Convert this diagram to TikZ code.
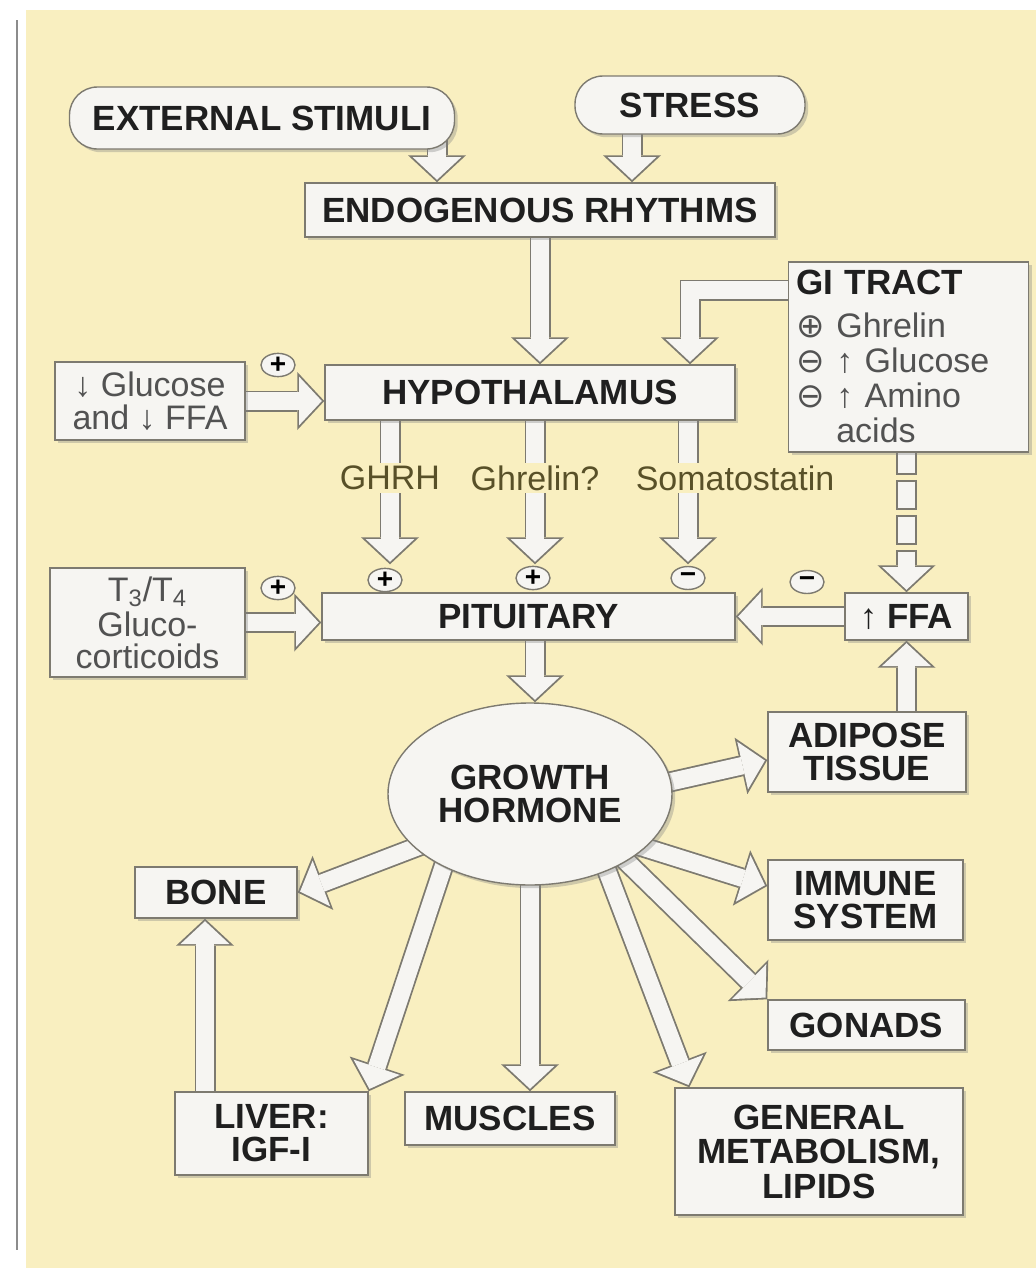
\documentclass[tikz,border=0pt]{standalone}
\usepackage{fontspec}
\setmainfont{Liberation Sans}
\newfontfamily\symfont{DejaVu Sans}
\usepackage{tikz}
\usetikzlibrary{arrows.meta,positioning,shapes.geometric,shadows,calc}
\definecolor{pagebg}{RGB}{249,239,192}
\definecolor{boxfill}{RGB}{246,245,242}
\definecolor{boxline}{RGB}{125,122,112}
\definecolor{labelink}{RGB}{88,80,40}
\definecolor{softink}{RGB}{82,82,82}
\pgfdeclarelayer{background}
\pgfdeclarelayer{arrows}
\pgfsetlayers{background,arrows,main}
\newcommand{\ghhead}{\fontsize{17.5}{16.5}\selectfont\bfseries}
\newcommand{\ghtext}{\fontsize{17}{16.5}\selectfont}
\newcommand{\gpos}{{\symfont ⊕}}
\newcommand{\gneg}{{\symfont ⊖}}
\tikzset{
  hbox/.style={draw=boxline, fill=boxfill, line width=0.7pt, align=center, inner sep=2pt, font=\ghhead, text=black!88,
    drop shadow={shadow xshift=1.6pt, shadow yshift=-1.6pt, opacity=0.35}},
  hsoft/.style={hbox, font=\ghtext, text=softink},
  hpill/.style={hbox, rounded corners=14pt},
  hsign/.style={draw=boxline, fill=boxfill, ellipse, inner sep=0pt, minimum width=17pt, minimum height=11.5pt, line width=0.7pt,
    font=\fontsize{14}{14}\selectfont\bfseries},
  hlabel/.style={fill=pagebg, inner sep=1.5pt, text=labelink, font=\ghtext},
  fat/.style={draw=boxfill, line width=8.7pt, -{Triangle[length=11.4pt,width=24.4pt,line width=0pt]}, shorten >=1.25pt,
    preaction={draw=boxline, line width=10.5pt, -{Triangle[length=13.5pt,width=29pt,line width=0pt]}, shorten >=0pt}},
  fatdash/.style={draw=boxfill, line width=8.7pt, dash pattern=on 13.2pt off 4.3pt, dash phase=7.63pt,
    -{Triangle[length=11.4pt,width=24.4pt,line width=0pt]}, shorten >=1.25pt,
    preaction={draw=boxline, line width=10.5pt, dash pattern=on 15pt off 2.5pt, dash phase=8.53pt,
      -{Triangle[length=13.5pt,width=29pt,line width=0pt]}, shorten >=0pt}}
}
\begin{document}
\begin{tikzpicture}[x=1pt, y=-1pt]
\useasboundingbox (0,0) rectangle (518,634.5);
\begin{pgfonlayer}{background}
\fill[white] (0,0) rectangle (518,634.5);
\fill[pagebg] (13,5) rectangle (518,634);
\draw[black!45, line width=0.8pt] (8.5,10) -- (8.5,625);
\end{pgfonlayer}

\node[hpill, minimum width=192.5pt, minimum height=31pt] (ext) at (131,59) {EXTERNAL STIMULI};
\node[hpill, minimum width=115pt, minimum height=29pt] (stress) at (345,52.5) {STRESS};
\node[hbox, minimum width=235pt, minimum height=27pt] (endo) at (270,105) {ENDOGENOUS RHYTHMS};
\node[hsoft, text width=112pt, align=left, minimum height=95pt, inner sep=4pt, font=\fontsize{17}{17.5}\selectfont] (gi) at (454.25,178.5)
  {{\ghhead\color{black!88}GI TRACT}\\[4pt]\gpos\ Ghrelin\\\gneg\ ↑ Glucose\\\gneg\ ↑ Amino\\\phantom{\gneg\ }acids};
\node[hbox, minimum width=205pt, minimum height=27.5pt] (hyp) at (265,196.25) {HYPOTHALAMUS};
\node[hsoft, minimum width=95pt, minimum height=39pt] (glu) at (75,200.5) {↓ Glucose\\and ↓ FFA};
\node[hbox, minimum width=206.5pt, minimum height=23.5pt] (pit) at (264.25,308.25) {PITUITARY};
\node[hsoft, minimum width=97.5pt, minimum height=54.5pt, font=\fontsize{17}{16}\selectfont] (thy) at (73.75,311.25) {T\textsubscript{3}/T\textsubscript{4}\\[1.5pt]Gluco-\\corticoids};
\node[hbox, minimum width=61.5pt, minimum height=23.5pt] (ffa) at (453.25,308.25) {{\mdseries ↑} FFA};
\node[hbox, minimum width=99pt, minimum height=40pt] (adi) at (433.5,376) {ADIPOSE\\TISSUE};
\node[hbox, ellipse, minimum width=142pt, minimum height=91pt] (gh) at (265,397) {GROWTH\\HORMONE};
\node[hbox, minimum width=81pt, minimum height=25.5pt] (bone) at (108,446.25) {BONE};
\node[hbox, minimum width=97.5pt, minimum height=40pt] (imm) at (432.75,450) {IMMUNE\\SYSTEM};
\node[hbox, minimum width=98.5pt, minimum height=25pt] (gon) at (433.25,512.5) {GONADS};
\node[hbox, minimum width=96.5pt, minimum height=41.5pt] (liv) at (135.75,566.75) {LIVER:\\IGF-I};
\node[hbox, minimum width=105pt, minimum height=26.5pt] (mus) at (255,559.25) {MUSCLES};
\node[hbox, minimum width=144pt, minimum height=63.5pt, font=\fontsize{17.5}{17.25}\selectfont\bfseries] (gen) at (409.5,575.75) {GENERAL\\METABOLISM,\\LIPIDS};

\node[hsign] (glusign) at (139,182.5) {+};
\node[hsign] (thysign) at (139,294) {+};
\node[hsign] (ghrhsign) at (192.5,290) {+};
\node[hsign] (ghrelsign) at (266.5,289) {+};
\node[hsign] (somsign) at (344,289) {−};
\node[hsign] (ffasign) at (403.5,291) {−};

\node[hlabel] (ghrhlabel) at (195,239) {GHRH};
\node[hlabel] (ghrellabel) at (267.5,239) {Ghrelin?};
\node[hlabel] (somlabel) at (367.5,239) {Somatostatin};

\coordinate (extfoot) at ([xshift=87.5pt]ext.center);
\coordinate (stressfoot) at ([xshift=-29pt]stress.center);
\coordinate (gibend) at ([yshift=33.5pt]gi.center);
\coordinate (hypin) at ([xshift=80pt]hyp.north);
\coordinate (ghrhtop) at ([xshift=-70pt]hyp.center);
\coordinate (ghreltop) at ([xshift=2.5pt]hyp.center);
\coordinate (somtop) at ([xshift=79pt]hyp.center);
\coordinate (pitin) at ([yshift=14pt]pit.north);
\coordinate (pitfoot) at ([xshift=3.25pt]pit.center);
\coordinate (adiin) at ([yshift=-4pt]adi.west);
\coordinate (immin) at ([yshift=7pt]imm.west);
\coordinate (genin) at ([xshift=7.5pt]gen.north west);
\coordinate (bonefoot) at ([xshift=-5.5pt]bone.center);

\begin{pgfonlayer}{arrows}
\draw[fat] (extfoot) -- (extfoot |- endo.north);
\draw[fat] (stressfoot) -- (stressfoot |- endo.north);
\draw[fat] (endo.center) -- (endo.center |- hyp.north);
\draw[fat] (gibend) -| (hypin);
\draw[fat] (glu.center) -- (glu.center -| hyp.west);
\draw[fat] (ghrhtop) -- (ghrhtop |- pitin);
\draw[fat] (ghreltop) -- (ghreltop |- pitin);
\draw[fat] (somtop) -- (somtop |- pitin);
\draw[fat] (thy.center) -- (thy.center -| pit.west);
\draw[fat] (ffa.center) -- (ffa.center -| pit.east);
\draw[fatdash] (gi.center -| ffa.center) -- (ffa.north);
\draw[fat] (adi.center -| ffa.center) -- (ffa.south);
\draw[fat] (pitfoot) -- (pitfoot |- gh.north);
\draw[fat, shorten <=-6pt] (gh.5) -- (adiin);
\draw[fat, shorten <=-6pt] (gh.-25) -- (immin);
\draw[fat, shorten <=-6pt] (gh.-35) -- (gon.north west);
\draw[fat, shorten <=-6pt] (gh.-45) -- (genin);
\draw[fat] (gh.center) -- (gh.center |- mus.north);
\draw[fat, shorten <=-6pt] (gh.-140) -- (liv.north east);
\draw[fat, shorten <=-6pt] (gh.-155) -- (bone.east);
\draw[fat] (bonefoot |- liv.center) -- (bonefoot |- bone.south);
\end{pgfonlayer}
\end{tikzpicture}
\end{document}
